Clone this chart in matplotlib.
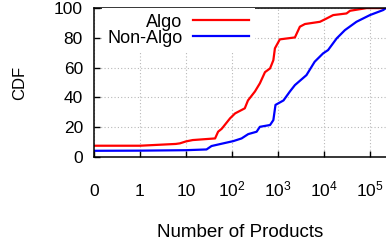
#!/usr/bin/env python3
"""CDF of number of products, Algo vs Non-Algo sellers."""

import numpy as np
import matplotlib

matplotlib.use("Agg")
import matplotlib.pyplot as plt

# values
algo_products = [0, 1, 6, 7.4, 10, 14, 43, 50, 60, 91, 117, 190, 223, 316, 405,
                 523, 674, 795, 860, 1100, 2340, 3000, 3870, 8200, 11400,
                 15900, 31000, 37000, 85000, 230000]
algo_cdf = [7.6, 7.6, 8.8, 9.2, 10.5, 11.4, 12.5, 17, 19, 26, 29.3, 32.7, 38,
            44, 49.5, 57, 59.5, 65, 73, 79, 80.3, 87.5, 89.3, 90.8, 93, 95.3,
            96.4, 98.2, 100, 100]

nonalgo_products = [0, 1, 10, 28, 36, 65, 107, 162, 226, 344, 405, 674, 795,
                    885, 1320, 1820, 2340, 4170, 6300, 9600, 12300, 19000,
                    28600, 51000, 100000, 195000, 223000]
nonalgo_cdf = [4.2, 4.3, 4.6, 5.1, 7.4, 9.2, 10.7, 12.5, 15.4, 17, 20.3, 21.5,
               24.8, 35, 38, 44, 48.3, 55, 64, 69.6, 71.8, 79.7, 85.2, 90.8,
               95.3, 98.7, 100]

x_ticks = [0, 1, 10, 100, 1000, 10000, 100000]
x_labels = ["0", "1", "10", "$10^{2}$", "$10^{3}$", "$10^{4}$", "$10^{5}$"]
y_ticks = [0, 20, 40, 60, 80, 100]


def forward(x):
    x = np.asarray(x, dtype=float)
    return np.where(x >= 1, np.log10(np.maximum(x, 1e-12)) + 1, x)


def inverse(p):
    p = np.asarray(p, dtype=float)
    return np.where(p >= 1, 10 ** (p - 1), p)


plt.rcParams.update({
    "font.family": ["Liberation Sans", "DejaVu Sans"],
    "mathtext.default": "regular",
})

fig = plt.figure(figsize=(3.86, 2.45), dpi=100)
ax = fig.add_axes([0.2435, 0.359, 0.7565, 0.608])

ax.plot(algo_products, algo_cdf, color="#ff0000", linewidth=1.6, label="Algo")
ax.plot(nonalgo_products, nonalgo_cdf, color="#0000ff", linewidth=1.6,
        label="Non-Algo")

ax.set_xscale("function", functions=(forward, inverse))
ax.set_xlim(0, inverse(6.35))
ax.set_ylim(0, 100)
ax.set_xticks(x_ticks)
ax.set_xticklabels(x_labels)
ax.set_yticks(y_ticks)
ax.minorticks_off()

ax.grid(True, color="#b8b8b8", linewidth=0.8, linestyle=(0, (1, 2)))
ax.set_axisbelow(True)

for side in ("left", "bottom", "top"):
    ax.spines[side].set_linewidth(1.1)
    ax.spines[side].set_color("black")
ax.spines["right"].set_visible(False)

ax.tick_params(axis="both", direction="in", length=4, width=1.0,
               labelsize=12.5, colors="black")
ax.tick_params(axis="x", pad=28)
ax.tick_params(axis="y", pad=8)
for t in ax.get_xticklabels():
    t.set_verticalalignment("baseline")

ax.set_xlabel("Number of Products", fontsize=13.5, labelpad=18)
ax.set_ylabel("CDF", fontsize=12, labelpad=19)

leg = ax.legend(loc="upper right", bbox_to_anchor=(0.55, 1.0),
                markerfirst=False, fontsize=13, frameon=True, fancybox=False,
                framealpha=1, facecolor="white", edgecolor="none",
                borderpad=0.3, borderaxespad=0, handlelength=3.1,
                handletextpad=0.6, labelspacing=-0.05)

fig.savefig("out.png", dpi=100)
